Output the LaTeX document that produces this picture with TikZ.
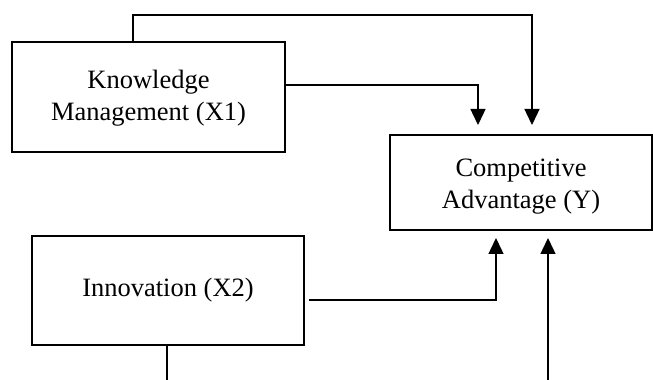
\documentclass[tikz,border=0pt]{standalone}
\usepackage{fontspec}
\setmainfont{Liberation Serif}
\usetikzlibrary{arrows.meta}
\begin{document}
\begin{tikzpicture}[x=1pt,y=1pt,
  box/.style={draw,line width=2pt,rectangle,inner sep=0pt,align=center,
    font=\fontsize{26.5}{32}\selectfont},
  conn/.style={line width=1.4pt},
  arr/.style={conn,-{Triangle[width=15pt,length=16pt]}}]
\useasboundingbox (0,0) rectangle (653,380);
\node[box,minimum width=273pt,minimum height=110pt] (km) at (148.5,283) {\rule{0pt}{21pt}Knowledge\\Management (X1)};
\node[box,minimum width=262pt,minimum height=95pt] (ca) at (521,197.5) {\rule{0pt}{25pt}Competitive\\Advantage (Y)};
\node[box,minimum width=272pt,minimum height=109pt] (in) at (168,89.5) {Innovation (X2)};
\coordinate (t1) at (133,365);
\coordinate (t2) at (532,365);
\coordinate (k2) at (478,295);
\coordinate (i2) at (496,80);
\coordinate (b1) at (167,0);
\coordinate (b2) at (548,0);
\draw[arr,shorten >=9pt] (km.north -| t1) -- (t1) -- (t2) -- (ca.north -| t2);
\draw[arr,shorten >=9pt] (km.east |- k2) -- (k2) -- (ca.north -| k2);
\draw[arr,shorten >=7pt] ([xshift=4pt]in.east |- i2) -- (i2) -- (ca.south -| i2);
\draw[conn] (in.south -| b1) -- (b1);
\draw[arr,shorten >=7pt] (b2) -- (ca.south -| b2);
\end{tikzpicture}
\end{document}
